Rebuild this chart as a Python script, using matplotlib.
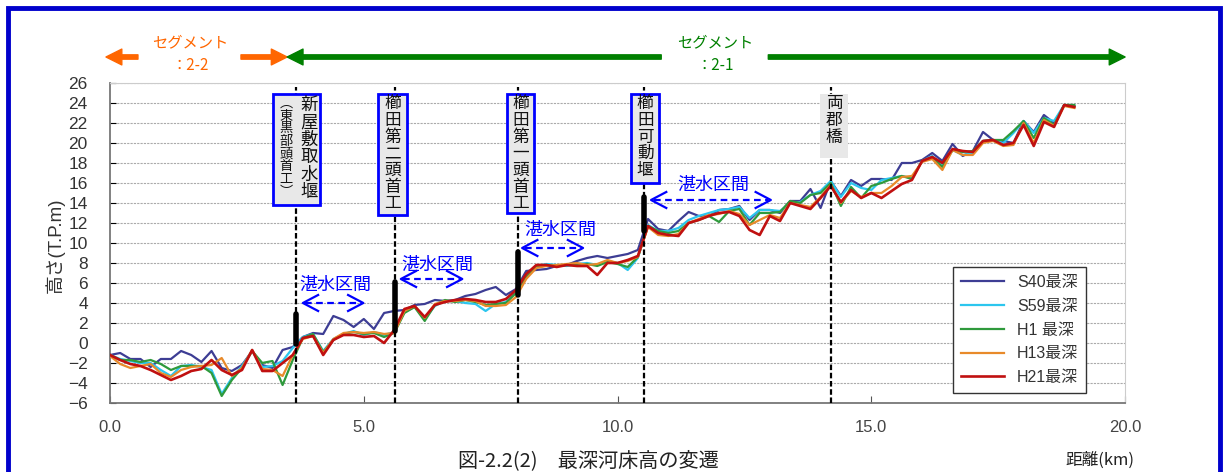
import numpy as np
import matplotlib
matplotlib.use("Agg")
import matplotlib.pyplot as plt
from matplotlib.patches import Rectangle

plt.rcParams['font.family'] = ['Liberation Sans', 'Noto Sans CJK JP', 'DejaVu Sans']

# survey stations every 0.2 km (0.0 .. 19.0)
distance = np.round(np.arange(0, 19.01, 0.2), 1)

s40 = [-1.2, -1.0, -1.6, -1.6, -2.4, -1.6, -1.6, -0.8, -1.2, -1.9,
       -0.8, -2.5, -2.8, -2.2, -0.8, -2.2, -2.5, -0.7, -0.4, 0.6,
       1.0, 0.9, 2.7, 2.3, 1.6, 2.4, 1.4, 3.0, 3.2, 3.3,
       3.8, 3.9, 4.3, 4.2, 4.3, 4.7, 4.9, 5.3, 5.6, 4.8,
       5.4, 7.2, 7.3, 7.4, 7.7, 7.8, 8.2, 8.5, 8.7, 8.5,
       8.7, 8.9, 9.3, 12.4, 11.4, 11.2, 12.2, 13.1, 12.7, 12.7,
       13.3, 13.4, 13.7, 12.3, 13.3, 13.3, 13.0, 14.2, 14.2, 15.4,
       13.5, 16.2, 14.7, 16.3, 15.7, 16.4, 16.4, 16.3, 18.0, 18.0,
       18.3, 19.0, 18.2, 19.9, 18.7, 19.2, 21.1, 20.3, 20.2, 20.0,
       22.2, 21.1, 22.8, 22.0, 23.8, 23.7]

s59 = [-1.2, -1.6, -1.8, -2.0, -2.0, -2.7, -3.3, -2.3, -2.2, -2.4,
       -2.7, -5.1, -3.5, -2.3, -0.8, -2.4, -2.3, -1.8, -0.5, 0.6,
       0.9, -0.8, 0.4, 0.9, 1.2, 0.8, 1.1, 0.8, 1.1, 3.1,
       3.6, 2.4, 3.7, 4.2, 4.2, 4.0, 3.9, 3.2, 3.9, 4.1,
       5.1, 6.7, 7.7, 7.9, 7.8, 7.7, 7.9, 8.0, 7.8, 8.2,
       8.0, 7.3, 8.5, 11.8, 11.2, 11.2, 11.5, 12.3, 12.7, 13.0,
       13.3, 13.4, 13.6, 12.5, 13.3, 13.3, 13.2, 14.0, 14.1, 14.8,
       15.2, 16.2, 14.6, 16.0, 15.5, 15.3, 16.3, 16.5, 16.7, 16.5,
       18.2, 18.7, 17.7, 19.3, 18.8, 19.0, 20.2, 20.3, 20.0, 21.0,
       22.2, 21.0, 22.5, 22.2, 23.8, 23.7]

h1 = [-1.2, -1.7, -1.7, -1.9, -1.7, -2.1, -2.7, -2.3, -2.3, -2.3,
      -3.0, -5.3, -3.7, -2.5, -0.8, -2.0, -1.8, -4.2, -1.7, 0.5,
      0.9, -0.9, 0.3, 0.9, 1.1, 0.9, 1.0, 0.6, 1.0, 3.0,
      3.6, 2.2, 3.8, 4.3, 4.1, 4.3, 4.1, 3.8, 3.9, 4.0,
      5.0, 6.6, 7.6, 7.8, 7.7, 7.8, 7.8, 7.9, 7.7, 8.1,
      7.9, 7.6, 8.6, 11.7, 11.2, 11.0, 11.2, 12.0, 12.3, 12.7,
      12.1, 13.2, 13.4, 11.8, 13.0, 13.0, 13.1, 14.2, 14.0, 14.8,
      15.0, 16.0, 13.7, 15.6, 14.5, 15.7, 16.0, 16.4, 16.7, 16.4,
      18.2, 18.5, 17.6, 19.3, 19.1, 19.2, 20.2, 20.3, 20.3, 21.2,
      22.2, 20.5, 22.5, 21.8, 23.8, 23.8]

h13 = [-1.3, -2.1, -2.5, -2.3, -2.1, -3.0, -3.4, -2.7, -2.4, -2.3,
       -2.2, -1.5, -3.3, -2.5, -0.7, -2.6, -2.7, -3.3, -1.2, 0.4,
       0.7, -1.0, 0.4, 1.0, 1.1, 1.0, 1.1, 0.9, 1.0, 3.2,
       3.7, 2.5, 3.9, 4.2, 4.2, 4.3, 4.2, 3.7, 3.7, 3.8,
       4.6, 6.4, 7.5, 7.7, 7.8, 7.9, 8.0, 7.8, 7.9, 8.3,
       8.0, 8.2, 8.6, 11.6, 10.8, 10.7, 10.9, 12.0, 12.4, 12.8,
       12.9, 13.2, 12.9, 11.8, 12.3, 12.8, 12.5, 14.0, 13.8, 13.6,
       14.6, 15.8, 14.0, 15.2, 14.6, 15.0, 15.0, 15.7, 16.6, 16.7,
       18.1, 18.4, 17.3, 19.3, 18.8, 18.8, 20.0, 20.2, 19.7, 19.8,
       22.0, 20.0, 22.3, 21.7, 23.7, 23.5]

h21 = [-1.2, -1.7, -2.1, -2.3, -2.7, -3.2, -3.7, -3.3, -2.8, -2.6,
       -1.7, -2.7, -3.2, -2.7, -0.7, -2.8, -2.8, -2.0, -1.2, 0.5,
       0.7, -1.2, 0.3, 0.8, 0.8, 0.6, 0.7, 0.0, 1.3, 3.4,
       3.7, 2.6, 3.8, 4.1, 4.3, 4.4, 4.3, 4.1, 4.1, 4.4,
       5.3, 6.9, 7.8, 7.8, 7.6, 7.8, 7.7, 7.7, 6.8, 8.0,
       8.0, 8.3, 8.7, 11.7, 11.0, 10.8, 10.7, 12.0, 12.3, 12.7,
       13.0, 13.1, 12.7, 11.3, 10.8, 12.7, 12.2, 14.0, 13.7, 13.4,
       14.5, 15.7, 14.1, 15.3, 14.5, 15.0, 14.5, 15.2, 15.9, 16.3,
       18.2, 18.6, 18.0, 19.4, 19.2, 19.1, 20.2, 20.3, 19.8, 20.0,
       21.8, 19.7, 22.1, 21.6, 23.8, 23.6]

series_names = ['S40最深', 'S59最深', 'H1 最深', 'H13最深', 'H21最深']
series_colors = ['#3d3d94', '#2cc6ee', '#2f9a3c', '#e88a2a', '#c01010']

# weirs / bridge positions (km) and weir body heights
structures_km = [3.66, 5.62, 8.03, 10.53, 14.21]
weir_top = [2.9, 6.1, 9.1, 14.6]
weir_bottom = [-0.1, 1.2, 4.8, 11.2]

fig = plt.figure(figsize=(12.24, 4.72), dpi=100)
ax = fig.add_axes([0.0899, 0.1462, 0.8293, 0.678])

for y, name, c in zip([s40, s59, h1, h13, h21], series_names, series_colors):
    ax.plot(distance, y, color=c, lw=1.6 if name != 'H21最深' else 1.9, label=name, zorder=3)

ax.set_xlim(0, 20)
ax.set_ylim(-6, 26)
ax.set_yticks(range(-6, 27, 2))
ax.set_xticks([0, 5, 10, 15, 20])
ax.set_xticklabels(['0.0', '5.0', '10.0', '15.0', '20.0'], color='#444444', fontsize=12)
ax.tick_params(axis='y', direction='in', length=4, pad=16, labelsize=12.5, labelcolor='#333333')
ax.tick_params(axis='x', direction='in', length=5, pad=12, color='#555555')
ax.grid(axis='y', color='#aaaaaa', ls=(0, (2, 1)), lw=0.8)
for s in ['top', 'right']:
    ax.spines[s].set_color('#cccccc')
for s in ['left', 'bottom']:
    ax.spines[s].set_color('#777777')
    ax.spines[s].set_linewidth(1.3)

# vertical dashed lines at structures
for x in structures_km:
    ax.plot([x, x], [-6, 25.6], color='black', lw=1.6, ls=(0, (2.5, 1.2)), clip_on=False, zorder=4)

# weir bodies
for x, b, t in zip(structures_km, weir_bottom, weir_top):
    ax.plot([x, x], [b, t], color='black', lw=4, solid_capstyle='round', zorder=5)

# label boxes (x0, x1, y0, y1, edge)
boxes = [(3.21, 4.14, 13.8, 24.9, 'blue'), (5.28, 5.85, 12.8, 24.9, 'blue'),
         (7.82, 8.35, 13.0, 24.9, 'blue'), (10.27, 10.82, 16.0, 24.9, 'blue'),
         (13.99, 14.54, 18.5, 24.9, 'none')]
for x0, x1, y0, y1, ec in boxes:
    ax.add_patch(Rectangle((x0, y0), x1 - x0, y1 - y0, fc='#e8e8e8', ec=ec, lw=2,
                           clip_on=False, zorder=6))

def vtext(x, ytop, s, size=12, color='#111111'):
    ax.text(x, ytop, "\n".join(s), ha='center', va='top', fontsize=size, color=color,
            linespacing=0.97, zorder=7, clip_on=False, family=['Noto Sans CJK JP'])

vtext(3.92, 24.75, '新屋敷取水堰', size=12.5)
vtext(3.47, 24.6, '︵東黒部頭首工︶', size=9.5)
vtext(5.565, 24.75, '櫛田第二頭首工')
vtext(8.085, 24.75, '櫛田第一頭首工')
vtext(10.545, 24.75, '櫛田可動堰')
vtext(14.265, 24.75, '両郡橋')

# 湛水区間 (backwater sections)
pond_text = [(4.43, 5.8), (6.44, 7.8), (8.87, 11.3), (11.88, 15.8)]
pond_arrow = [(3.80, 4.99, 4.0), (5.73, 6.94, 6.4), (8.12, 9.32, 9.5), (10.66, 13.02, 14.3)]
for (tx, ty), (a, b, ay) in zip(pond_text, pond_arrow):
    ax.text(tx, ty, '湛水区間', color='#0000ff', fontsize=13, ha='center', va='center',
            zorder=7, family=['Noto Sans CJK JP'])
    ax.plot([a + 0.05, b - 0.05], [ay, ay], color='#0000ff', lw=1.6, ls=(0, (3, 2)), zorder=7)
    ax.plot([a + 0.3, a, a + 0.3], [ay + 0.8, ay, ay - 0.8], color='#0000ff', lw=1.6, zorder=7)
    ax.plot([b - 0.3, b, b - 0.3], [ay + 0.8, ay, ay - 0.8], color='#0000ff', lw=1.6, zorder=7)

leg = ax.legend(loc='lower left', bbox_to_anchor=(0.8305, 0.031), borderaxespad=0,
                fontsize=11.5, handlelength=2.7, labelspacing=0.55, fancybox=False,
                framealpha=1, edgecolor='#333333', borderpad=0.5)
leg.get_frame().set_linewidth(1.0)
for t in leg.get_texts():
    t.set_color('#333333')
leg.set_zorder(8)

# segment arrows above the plot
seg_y = 1 - 57 / 472

def seg_arrow(x_from, x_to, color):
    ax.annotate('', xy=(x_to, seg_y), xytext=(x_from, seg_y),
                xycoords=('data', 'figure fraction'), textcoords=('data', 'figure fraction'),
                arrowprops=dict(arrowstyle='simple,head_length=0.95,head_width=0.95,tail_width=0.26',
                                mutation_scale=12, color=color, shrinkA=0, shrinkB=0),
                annotation_clip=False)

seg_arrow(0.55, -0.08, '#ff6600')
seg_arrow(2.58, 3.49, '#ff6600')
seg_arrow(10.86, 3.49, '#008000')
seg_arrow(12.97, 20.0, '#008000')

for x, lab, c in [(1.58, '：2-2', '#ff6600'), (11.92, '：2-1', '#008000')]:
    fx = (110 + x * 50.75) / 1224
    fig.text(fx, 1 - 43 / 472, 'セグメント', fontsize=11, color=c,
             ha='center', va='center', family=['Noto Sans CJK JP'])
    fig.text(fx, 1 - 65 / 472, lab, fontsize=11, color=c,
             ha='center', va='center', family=['Noto Sans CJK JP'])

fig.text(55 / 1224, 1 - 245 / 472, '高さ(T.P.m)', rotation=90, fontsize=13.5, color='#333333',
         ha='center', va='center')
fig.text(1100 / 1224, 1 - 460 / 472, '距離(km)', fontsize=12, color='#222222',
         ha='center', va='center', family=['Noto Sans CJK JP'])
fig.text(588 / 1224, 1 - 450 / 472, '図-2.2(2)　最深河床高の変遷', fontsize=14.5, color='#222222',
         ha='center', va='top', family=['Noto Sans CJK JP'])

# blue frame around the figure
fig.add_artist(Rectangle((8 / 1224, -0.1), 1212 / 1224, 1.1 - 8 / 472, transform=fig.transFigure,
                         fill=False, ec='#0000cc', lw=3.5))

fig.savefig('out.png', dpi=100)
